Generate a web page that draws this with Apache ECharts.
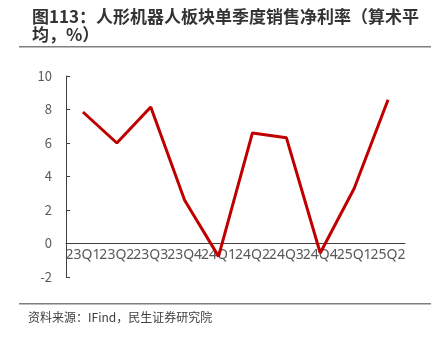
<!DOCTYPE html>
<html><head><meta charset="utf-8">
<script src="https://cdn.jsdelivr.net/npm/echarts@6/dist/echarts.min.js"></script>
<style>html,body{margin:0;padding:0;background:#fff}#c{width:442px;height:341px}</style>
</head><body><div id="c"></div>
<script>
const categories = ['23Q1','23Q2','23Q3','23Q4','24Q1','24Q2','24Q3','24Q4','25Q1','25Q2'];
const netMargin = [7.85, 6.0, 8.15, 2.58, -0.77, 6.6, 6.32, -0.57, 3.28, 8.58];
const yTicks = {min: -2, max: 10, interval: 2};
const titleText = '图113：人形机器人板块单季度销售净利率（算术平\n均，%）';
const sourceText = '资料来源：IFind，民生证券研究院';

const font = '"Noto Sans CJK SC", "Noto Sans", sans-serif';
const chart = echarts.init(document.getElementById('c'));
const gridTop = 76, gridBottomPx = 341 - 64;
const zeroOffset = (gridBottomPx - gridTop) * (0 - yTicks.min) / (yTicks.max - yTicks.min);
chart.setOption({
  animation: false,
  title: {
    text: titleText, left: 27, top: 3,
    textStyle: {fontFamily: font, fontSize: 17, fontWeight: 'bold', color: '#333', lineHeight: 18}
  },
  graphic: [
    {type: 'rect', shape: {x: 19, y: 46, width: 412, height: 1.5}, style: {fill: '#7f7f7f'}},
    {type: 'rect', shape: {x: 19, y: 303, width: 412, height: 1.5}, style: {fill: '#7f7f7f'}},
    {type: 'text', left: 28, top: 311, style: {text: sourceText, fontFamily: font, fontSize: 12, fill: '#404040'}}
  ],
  grid: {left: 66, right: 37, top: gridTop, bottom: 64},
  xAxis: {
    type: 'category', data: categories, boundaryGap: true,
    offset: -zeroOffset,
    axisLine: {onZero: false, lineStyle: {color: '#404040', width: 1}},
    axisTick: {show: false},
    axisLabel: {interval: 0, color: '#595959', fontFamily: '"Noto Sans", sans-serif', fontSize: 14, margin: 5}
  },
  yAxis: {
    type: 'value', min: yTicks.min, max: yTicks.max, interval: yTicks.interval,
    axisLine: {show: true, lineStyle: {color: '#404040', width: 1}},
    axisTick: {show: true, inside: true, length: 4, lineStyle: {color: '#404040', width: 1}},
    splitLine: {show: false},
    axisLabel: {color: '#595959', fontFamily: font, fontSize: 13, margin: 14}
  },
  series: [{
    type: 'line', data: netMargin, symbol: 'none',
    lineStyle: {color: '#C00000', width: 3}
  }]
});
</script></body></html>
